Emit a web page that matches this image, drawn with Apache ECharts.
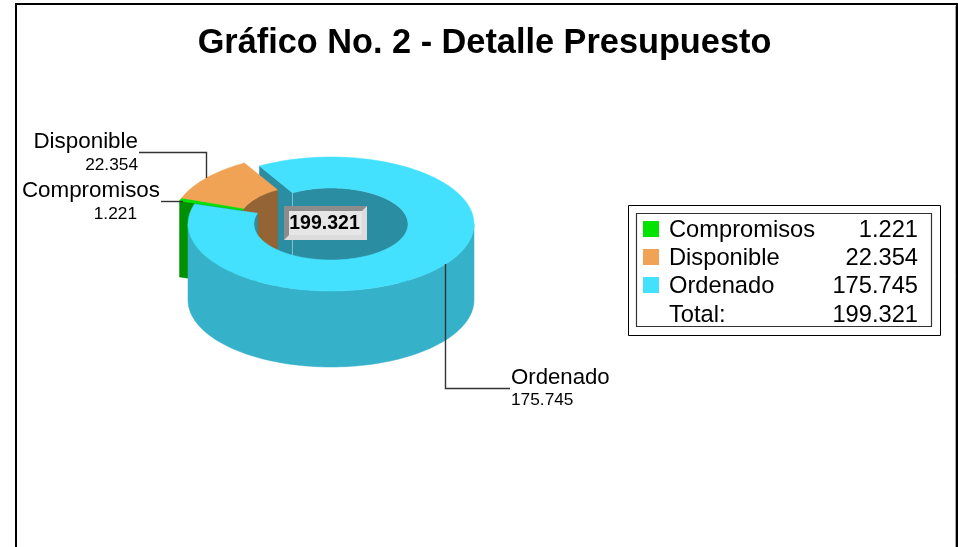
<!DOCTYPE html>
<html>
	<head>
		<meta charset="utf-8">
		<title>Gráfico No. 2</title>
		<script src="https://cdn.jsdelivr.net/npm/echarts@6/dist/echarts.min.js"></script>
		<style>
			html, body { margin: 0; padding: 0; background: #fff; }
			#chart { width: 958px; height: 547px; }
		</style>
	</head>
	<body>
		<div id="chart"></div>
		<script type="text/javascript">
			var titleText = 'Gráfico No. 2 - Detalle Presupuesto';
			var categories = ['Compromisos', 'Disponible', 'Ordenado'];
			var values = [1.221, 22.354, 175.745];
			var totalLabel = 'Total:';
			var totalValue = 199.321;

			var topColors = ['#00E400', '#F0A354', '#44E1FF'];
			var outerColors = ['#009000', '#B07A3E', '#35B1C9'];
			var innerColors = ['#009000', '#956434', '#2B8DA1'];
			var cutColors = ['#009000', '#956434', '#2B8DA1'];
			var exploded = [true, true, false];

			// 椭圆环的几何参数
			var CX = 331, CY = 224, RX = 143, RY = 67, IRX = 77, IRY = 36, DEPTH = 76;
			var START = 162.6; // 第一块的起始角，顺时针画
			var OFF_X = -15, OFF_Y = -3;

			var sum = values.reduce(function(a, b) { return a + b; }, 0);

			function pt(a, rx, ry, dx, dy) {
				var r = a * Math.PI / 180;
				return [CX + dx + rx * Math.cos(r), CY + dy - ry * Math.sin(r)];
			}

			function arc(a0, a1, rx, ry, dx, dy) {
				var pts = [];
				var n = Math.max(2, Math.ceil(Math.abs(a0 - a1) / 2));
				for (var i = 0; i <= n; i++) {
					pts.push(pt(a0 + (a1 - a0) * i / n, rx, ry, dx, dy));
				}
				return pts;
			}

			function wall(a0, a1, rx, ry, dx, dy) {
				var up = arc(a0, a1, rx, ry, dx, dy);
				var down = arc(a1, a0, rx, ry, dx, dy + DEPTH);
				return up.concat(down);
			}

			function poly(points, fill, z2, stroke) {
				return {
					type: 'polygon',
					z2: z2,
					shape: { points: points },
					style: { fill: fill, stroke: stroke || fill, lineWidth: 0.5 }
				};
			}

			function renderSlice(params, api) {
				var idx = params.dataIndex;
				var before = 0;
				for (var i = 0; i < idx; i++) before += values[i];
				var a0 = START - before / sum * 360;
				var a1 = a0 - api.value(0) / sum * 360;
				var dx = exploded[idx] ? OFF_X : 0;
				var dy = exploded[idx] ? OFF_Y : 0;
				var zt = exploded[idx] ? 5 - idx * 0.1 : 7;
				var zo = exploded[idx] ? 3 : 6;
				var kids = [];

				// 内壁和外壁，只画朝向观察者的部分
				[0, -360].forEach(function(k) {
					var hi = Math.min(a0, k + 180), lo = Math.max(a1, k);
					if (hi > lo) {
						var zi = exploded[idx] ? 3 : (k === 0 ? 1 : 4);
						kids.push(poly(wall(hi, lo, IRX, IRY, dx, dy), innerColors[idx], zi));
					}
					hi = Math.min(a0, k);
					lo = Math.max(a1, k - 180);
					if (hi > lo) {
						kids.push(poly(wall(hi, lo, RX, RY, dx, dy), outerColors[idx], zo));
					}
				});

				// 切面
				if (Math.cos(a0 * Math.PI / 180) < 0) {
					var p = pt(a0, RX, RY, dx, dy), q = pt(a0, IRX, IRY, dx, dy);
					var zc = exploded[idx] ? 4 - idx * 0.1 : 2;
					kids.push(poly([p, q, [q[0], q[1] + DEPTH], [p[0], p[1] + DEPTH]], cutColors[idx], zc));
					if (!exploded[idx]) {
						kids.push({
							type: 'line',
							z2: 2.5,
							shape: { x1: q[0], y1: q[1], x2: q[0], y2: q[1] + 67 },
							style: { stroke: '#7FC3D2', lineWidth: 1 }
						});
					}
				}

				// 顶面
				var outer = arc(a0, a1, RX, RY, dx, dy);
				var inner = arc(a1, a0, IRX, IRY, dx, dy);
				kids.push(poly(outer.concat(inner), topColors[idx], zt));

				return { type: 'group', children: kids };
			}

			function fmt(v) { return v.toFixed(3); }

			function txt(text, x, y, size, align, weight) {
				return {
					type: 'text',
					z: 20,
					x: x,
					y: y,
					style: {
						text: text,
						fill: '#000',
						align: align,
						verticalAlign: 'middle',
						font: (weight || 'normal') + ' ' + size + 'px "Liberation Sans", Arial, sans-serif'
					}
				};
			}

			function box(x, y, w, h, fill, stroke, lineWidth, z) {
				return {
					type: 'rect',
					z: z || 1,
					shape: { x: x, y: y, width: w, height: h },
					style: { fill: fill, stroke: stroke, lineWidth: lineWidth }
				};
			}

			function leader(points) {
				return {
					type: 'polyline',
					z: 15,
					shape: { points: points },
					style: { fill: 'none', stroke: '#333', lineWidth: 1.4 }
				};
			}

			var graphics = [
				// 外框
				box(16, 4, 941, 600, 'none', '#000', 2, 0),
				{ type: 'line', z: 0, shape: { x1: 955.5, y1: 6, x2: 955.5, y2: 547 }, style: { stroke: '#AAA', lineWidth: 1 } },
				// 图例框
				box(628.5, 205.5, 312, 130, '#fff', '#000', 1, 1),
				box(636.5, 213.5, 295, 113, 'none', '#333', 1.2, 2),
				// 引线
				leader([[139, 152.5], [206.5, 152.5], [206.5, 178]]),
				leader([[161, 201.5], [183, 201.5]]),
				leader([[445.5, 264], [445.5, 388.5], [510, 388.5]]),
				// 总计标签
				box(284, 206, 83, 34, '#DCDCDC', 'none', 0, 16),
				{ type: 'polygon', z: 17, shape: { points: [[284, 206], [367, 206], [362, 211], [289, 211], [289, 235], [284, 240]] }, style: { fill: '#8C8C8C' } },
				box(289, 211, 73, 24, '#E6E6E6', 'none', 0, 17),
				txt(fmt(totalValue), 324.5, 223.5, 19.5, 'center', 'bold'),
				// 饼图标签
				txt(categories[0], 160, 191, 22.4, 'right'),
				txt(fmt(values[0]), 137, 214, 17.3, 'right'),
				txt(categories[1], 138, 142, 22.4, 'right'),
				txt(fmt(values[1]), 138, 165, 17.3, 'right'),
				txt(categories[2], 511, 378, 22.2, 'left'),
				txt(fmt(values[2]), 511, 400, 17.3, 'left')
			];

			// 图例行
			categories.forEach(function(name, i) {
				graphics.push(box(643, 221 + i * 28, 16, 16, topColors[i], 'none', 0, 3));
				graphics.push(txt(name, 669, 230 + i * 28, 23.7, 'left'));
				graphics.push(txt(fmt(values[i]), 918, 230 + i * 28, 23.7, 'right'));
			});
			graphics.push(txt(totalLabel, 669, 315.5, 23.7, 'left'));
			graphics.push(txt(fmt(totalValue), 918, 315.5, 23.7, 'right'));

			var chart = echarts.init(document.getElementById('chart'));
			chart.setOption({
				animation: false,
				backgroundColor: '#fff',
				title: {
					text: titleText,
					left: 479.5,
					top: 22,
					textAlign: 'center',
					textStyle: { fontFamily: '"Liberation Sans", Arial, sans-serif', fontSize: 34.3, fontWeight: 'bold', color: '#000' }
				},
				graphic: graphics,
				series: [{
					type: 'custom',
					coordinateSystem: 'none',
					silent: true,
					renderItem: renderSlice,
					data: values
				}]
			});
		</script>
	</body>
</html>
